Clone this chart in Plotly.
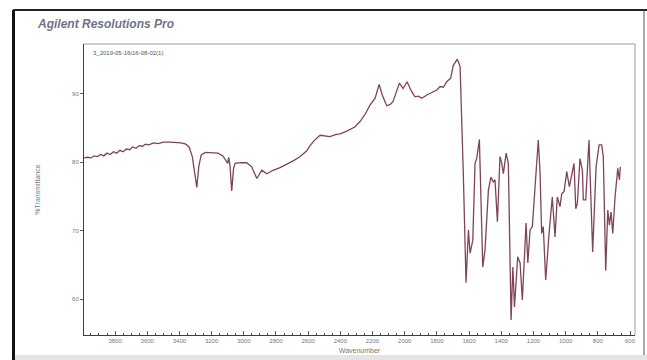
import plotly.graph_objects as go

W, H = 647, 360

# Spectrum data (wavenumber cm-1, %Transmittance)
wavenumber = [3995, 3970, 3950, 3930, 3910, 3890, 3870, 3850, 3830, 3810, 3790, 3770, 3750, 3730,
              3710, 3690, 3670, 3650, 3630, 3610, 3590, 3560, 3530, 3500, 3460, 3420, 3390, 3360,
              3340, 3320, 3305, 3292, 3280, 3265, 3240, 3200, 3160, 3130, 3110, 3100, 3094, 3086,
              3075, 3064, 3054, 3020, 2982, 2951, 2919, 2888, 2857, 2818, 2775, 2733, 2690, 2650,
              2610, 2588, 2560, 2526, 2500, 2464, 2430, 2402, 2370, 2340, 2310, 2278, 2245, 2216,
              2184, 2159, 2140, 2112, 2090, 2073, 2033, 2010, 1985, 1960, 1936, 1915, 1894, 1860,
              1824, 1800, 1780, 1760, 1739, 1715, 1698, 1673, 1656, 1642, 1636, 1619, 1604, 1594,
              1577, 1563, 1552, 1536, 1528, 1515, 1501, 1480, 1464, 1449, 1439, 1424, 1408, 1397,
              1387, 1370, 1356, 1339, 1328, 1318, 1298, 1283, 1269, 1246, 1235, 1221, 1207, 1190,
              1170, 1159, 1149, 1139, 1124, 1103, 1083, 1066, 1052, 1035, 1024, 1010, 993, 977,
              962, 948, 937, 927, 911, 896, 890, 875, 855, 842, 832, 811, 792, 776, 766, 751, 738,
              728, 718, 707, 693, 676, 666, 660]
transmittance = [80.6, 80.7, 80.6, 80.9, 80.8, 81.1, 80.9, 81.3, 81.1, 81.5, 81.3, 81.7, 81.5, 81.9,
                 81.8, 82.2, 82.0, 82.4, 82.3, 82.6, 82.5, 82.8, 82.7, 82.9, 82.9, 82.9, 82.8, 82.6,
                 82.2, 80.8, 78.5, 76.3, 79.3, 81.0, 81.4, 81.4, 81.3, 80.9, 80.2, 79.8, 80.7, 79.5,
                 75.8, 79.0, 79.8, 79.9, 79.9, 79.3, 77.6, 78.8, 78.3, 78.8, 79.2, 79.7, 80.2, 80.8,
                 81.6, 82.4, 83.2, 83.9, 83.8, 83.7, 84.0, 84.1, 84.4, 84.7, 85.1, 85.9, 87.0, 88.3,
                 89.3, 91.3, 89.8, 88.2, 88.4, 88.8, 91.5, 90.7, 91.7, 90.4, 89.5, 89.6, 89.3, 89.8,
                 90.2, 90.5, 91.0, 90.9, 91.7, 92.2, 94.1, 95.0, 93.9, 84.7, 78.4, 62.4, 70.1, 66.7,
                 68.6, 79.8, 80.6, 83.3, 75.9, 64.7, 67.2, 75.9, 77.8, 77.1, 77.4, 71.3, 80.8, 79.8,
                 78.3, 81.3, 79.8, 57.0, 64.7, 58.9, 66.2, 65.3, 59.9, 71.1, 65.3, 70.1, 70.6, 76.9,
                 83.2, 78.4, 69.6, 70.6, 62.8, 69.6, 74.9, 69.1, 74.9, 73.5, 75.4, 75.7, 78.6, 76.4,
                 78.3, 79.8, 73.2, 74.0, 80.5, 78.8, 74.5, 74.5, 83.2, 75.4, 66.9, 79.3, 82.5, 82.5,
                 80.8, 64.2, 73.0, 70.8, 72.7, 69.6, 74.9, 79.1, 77.4, 79.3]

x_ticks = [3800, 3600, 3400, 3200, 3000, 2800, 2600, 2400, 2200, 2000, 1800, 1600, 1400, 1200, 1000, 800, 600]
y_ticks = [60, 70, 80, 90]

# plot-area pixel box
L, R, T, B = 84, 635, 44, 335

def px(x):
    return x / W

def py(y):
    return 1 - y / H

fig = go.Figure()
fig.add_trace(go.Scatter(x=wavenumber, y=transmittance, mode="lines",
                         line=dict(color="#7e4459", width=1.3), hoverinfo="skip"))

tickfont = dict(family="Liberation Sans, Arial, sans-serif", size=6, color="#777777")

fig.update_layout(
    width=W, height=H,
    margin=dict(l=0, r=0, t=0, b=0),
    paper_bgcolor="white", plot_bgcolor="white",
    showlegend=False,
    xaxis=dict(domain=[px(L), px(R)], range=[3993, 569], showgrid=False, zeroline=False,
               tickvals=x_ticks, ticks="inside", ticklen=4, tickcolor="#555566", tickwidth=1,
               minor=dict(dtick=50, tick0=0, ticks="inside", ticklen=2, tickcolor="#555566"),
               showline=True, linecolor="#3a3a55", linewidth=1, tickfont=tickfont,
               title=dict(text="Wavenumber", font=dict(family="Liberation Sans, Arial, sans-serif",
                                                        size=7, color="#777777"), standoff=4)),
    yaxis=dict(domain=[py(B), py(T)], range=[54.8, 97.2], showgrid=False, zeroline=False,
               tickvals=y_ticks, ticks="outside", ticklen=3, tickcolor="#555566",
               showline=True, linecolor="#3a3a55", linewidth=1, tickfont=tickfont,
               title=dict(text="%Transmittance", font=dict(family="Liberation Sans, Arial, sans-serif",
                                                            size=7, color="#777777"), standoff=30)),
)

shapes = [
    # light top/right frame of plot area
    dict(type="line", xref="paper", yref="paper", x0=px(L), x1=px(R), y0=py(T), y1=py(T),
         line=dict(color="#9a9aa6", width=1)),
    dict(type="line", xref="paper", yref="paper", x0=px(R), x1=px(R), y0=py(T), y1=py(B),
         line=dict(color="#9a9aa6", width=1)),
    # outer black frame of the screenshot
    dict(type="line", xref="paper", yref="paper", x0=px(13.5), x1=px(13.5), y0=py(10), y1=py(360),
         line=dict(color="#111111", width=3)),
    dict(type="line", xref="paper", yref="paper", x0=px(13), x1=px(647), y0=py(10), y1=py(10),
         line=dict(color="#222222", width=2)),
    dict(type="line", xref="paper", yref="paper", x0=px(644), x1=px(644), y0=py(10), y1=py(356),
         line=dict(color="#555555", width=1)),
    dict(type="rect", xref="paper", yref="paper", x0=px(15), x1=px(647), y0=py(360), y1=py(355),
         line=dict(width=0), fillcolor="#e4e4e4"),
]
fig.update_layout(shapes=shapes)

fig.add_annotation(text="<b><i>Agilent Resolutions Pro</i></b>", xref="paper", yref="paper",
                   x=px(35), y=py(24), xanchor="left", yanchor="middle", showarrow=False,
                   font=dict(family="Liberation Sans, Arial, sans-serif", size=12, color="#6f7487"))
fig.add_annotation(text="3_2019-05-16t16-08-02(1)", xref="paper", yref="paper",
                   x=px(91), y=py(53), xanchor="left", yanchor="middle", showarrow=False,
                   font=dict(family="Liberation Sans, Arial, sans-serif", size=6, color="#555555"))

fig.write_html("out.html")
